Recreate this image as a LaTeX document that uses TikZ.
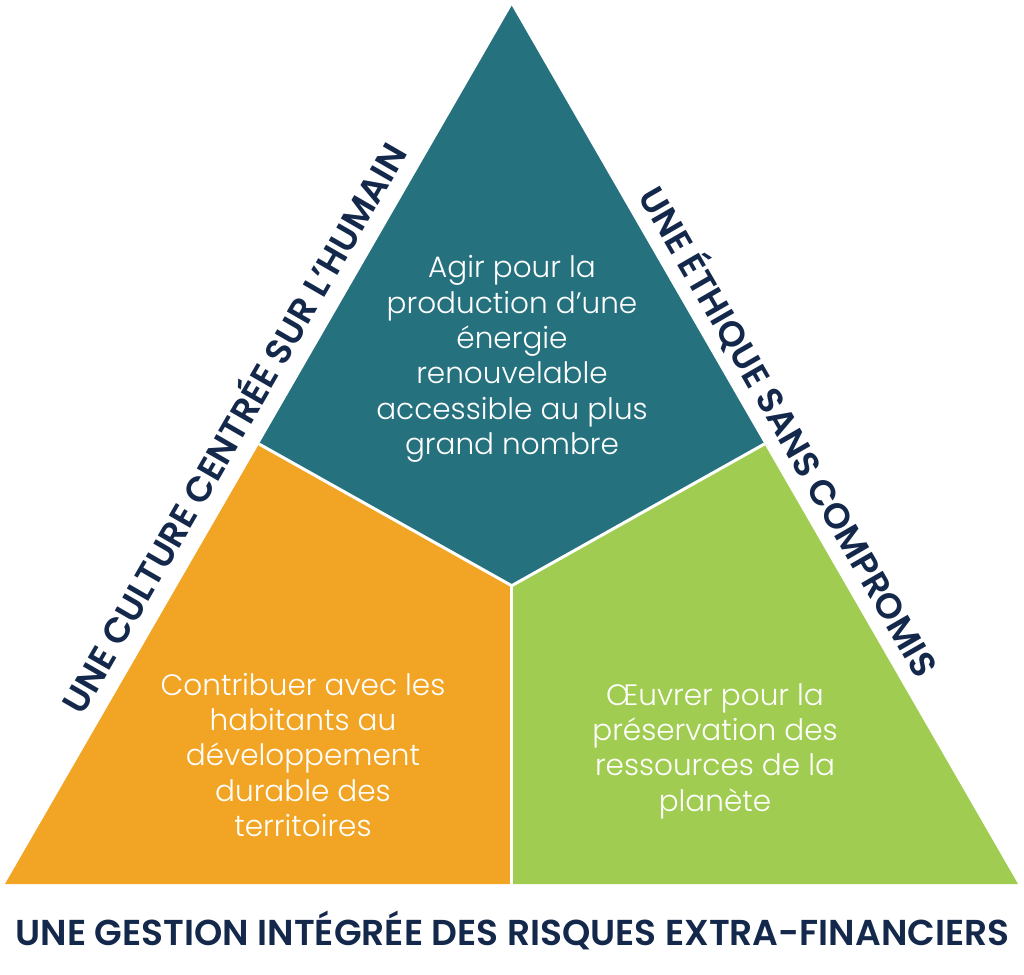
\documentclass[tikz,border=0pt]{standalone}
\usepackage{fontspec}
\setmainfont{Poppins}
\newfontfamily\popsemi{Poppins SemiBold}
\newfontfamily\poplight{Poppins Light}
\definecolor{teal}{HTML}{25717E}
\definecolor{orangeY}{HTML}{F2A524}
\definecolor{greenY}{HTML}{A0CD51}
\definecolor{navy}{HTML}{13284A}
\begin{document}
\begin{tikzpicture}[x=1bp,y=-1bp,
  sidetxt/.style={font=\popsemi\fontsize{35.5bp}{38bp}\selectfont, text=navy, inner sep=0pt, anchor=base},
  bottxt/.style={font=\popsemi\fontsize{36bp}{40bp}\selectfont, text=navy, inner sep=0pt, anchor=base},
  intxt/.style={font=\poplight\fontsize{29.5bp}{35.3bp}\selectfont, text=white, inner sep=0pt, align=center},
  sep/.style={draw=white, line width=3bp}]
\useasboundingbox (0,0) rectangle (1024,975);
\coordinate (apex) at (511.7,5.7);
\coordinate (bl) at (5,884);
\coordinate (br) at (1018,884);
\coordinate (ctr) at (511.7,585.7);
\coordinate (lj) at (259,444);
\coordinate (rj) at (764.4,444);
\coordinate (bm) at (511.7,884);
\fill[teal] (apex) -- (rj) -- (ctr) -- (lj) -- cycle;
\fill[orangeY] (lj) -- (ctr) -- (bm) -- (bl) -- cycle;
\fill[greenY] (rj) -- (br) -- (bm) -- (ctr) -- cycle;
\draw[sep] (lj) -- (ctr) -- (rj);
\draw[sep] (ctr) -- (bm);
\node[intxt] (t1) at (512,359) {Agir pour la\\production d’une\\énergie\\renouvelable\\accessible au plus\\grand nombre};
\node[intxt] (t2) at (303,755) {Contribuer avec les\\habitants au\\développement\\durable des\\territoires};
\node[intxt] (t3) at (715,751) {Œuvrer pour la\\préservation des\\ressources de la\\planète};
\node[sidetxt, rotate=60] (sl) at (245.4,434.8) {UNE CULTURE CENTRÉE SUR L’HUMAIN};
\node[sidetxt, rotate=-60] (sr) at (777.5,438.0) {UNE ÉTHIQUE SANS COMPROMIS};
\node[bottxt] (bt) at (512.5,945) {UNE GESTION INTÉGRÉE DES RISQUES EXTRA-FINANCIERS};
\end{tikzpicture}
\end{document}
